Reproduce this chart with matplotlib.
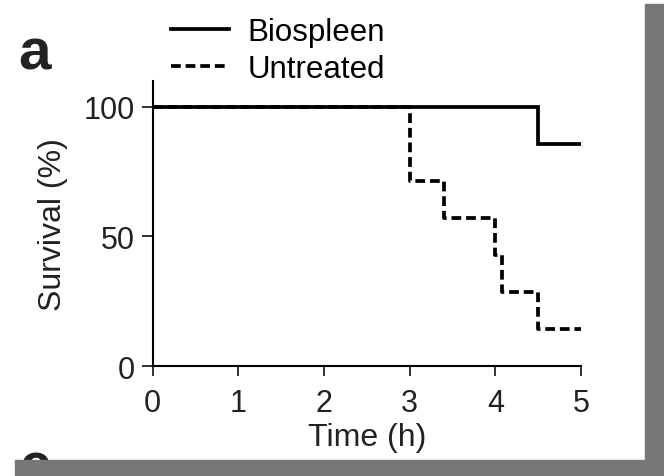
import matplotlib.pyplot as plt
from matplotlib.patches import Rectangle

plt.rcParams['font.family'] = ['Liberation Sans', 'DejaVu Sans']

# Kaplan-Meier style step data (time in h, survival in %)
bio_t = [0, 4.5, 4.5, 5]
bio_s = [100, 100, 85.7, 85.7]
untr_t = [0, 3.0, 3.0, 3.4, 3.4, 4.0, 4.0, 4.08, 4.08, 4.5, 4.5, 5]
untr_s = [100, 100, 71.4, 71.4, 57.1, 57.1, 42.9, 42.9, 28.6, 28.6, 14.3, 14.3]
xticks = [0, 1, 2, 3, 4, 5]
yticks = [0, 50, 100]

fig = plt.figure(figsize=(6.64, 4.77), dpi=100)
ax = fig.add_axes([0.2297, 0.2306, 0.6453, 0.5975])

l1, = ax.plot(bio_t, bio_s, color='black', lw=2.7, solid_joinstyle='miter')
l2, = ax.plot(untr_t, untr_s, color='black', lw=2.7, linestyle=(0, (2.6, 1.3)))

ax.set_xlim(0, 5)
ax.set_ylim(0, 110)
ax.set_xticks(xticks)
ax.set_yticks(yticks)
ax.tick_params(labelsize=22, width=1.3, direction='out', colors='#222222')
ax.tick_params(axis='x', length=7, pad=9)
ax.tick_params(axis='y', length=8, pad=5)
ax.spines['top'].set_visible(False)
ax.spines['right'].set_visible(False)
for s in ['left', 'bottom']:
    ax.spines[s].set_linewidth(1.5)
ax.set_xlabel('Time (h)', fontsize=23, labelpad=3, color='#222222')
ax.set_ylabel('Survival (%)', fontsize=23, labelpad=11, color='#222222')

fig.legend([l1, l2], ['Biospleen', 'Untreated'], loc='upper left',
           bbox_to_anchor=(0.2575, 0.962), frameon=False, fontsize=22.5,
           borderpad=0, borderaxespad=0,
           handlelength=1.85, handletextpad=0.6, labelspacing=0.22)

fig.text(0.028, 0.855, 'a', fontsize=42, fontweight='bold', color='#222222')
fig.text(0.03, -0.012, 'c', fontsize=40, fontweight='bold', color='#222222', zorder=1)

# grey frame from the page scan
fig.patches.append(Rectangle((0.9714, 0), 0.0286, 0.9895, transform=fig.transFigure,
                             color='#777777', zorder=5))
fig.patches.append(Rectangle((0.0226, 0), 0.9774, 0.0335, transform=fig.transFigure,
                             color='#777777', zorder=5))

fig.savefig('out.png', dpi=100)
